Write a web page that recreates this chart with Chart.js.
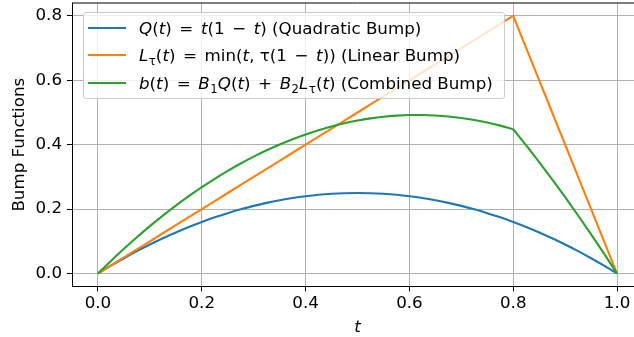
<!DOCTYPE html>
<html><head><meta charset="utf-8">
<script src="https://cdn.jsdelivr.net/npm/chart.js@4/dist/chart.umd.min.js"></script>
<style>
html,body{margin:0;padding:0;background:#fff;overflow:hidden;width:634px;height:337px;}
#wrap{position:relative;width:634px;height:337px;overflow:hidden;}
#c{position:absolute;left:0;top:-17px;}
#legend{position:absolute;left:83px;top:12px;width:422px;height:87px;box-sizing:border-box;border:1px solid #cccccc;border-radius:3px;background:rgba(255,255,255,0.8);font-family:"DejaVu Sans";font-size:16.7px;color:#000;}
.row{position:absolute;left:0;height:20px;line-height:20px;white-space:nowrap;}
.swatch{position:absolute;left:4px;top:9px;width:38px;height:2px;}
.txt{position:absolute;left:55px;top:0;}
.sub{font-size:11.7px;position:relative;top:4px;margin-left:0.5px;}
.op{margin:0 7.6px;}
i{font-style:italic;}
</style></head>
<body><div id="wrap"><canvas id="c" width="660" height="354"></canvas>
<div id="legend"></div></div>
<script>
// ---- data ----
const tValues = [0,0.025,0.05,0.075,0.1,0.125,0.15,0.175,0.2,0.225,0.25,0.275,0.3,0.325,0.35,0.375,0.4,0.425,0.45,0.475,0.5,0.525,0.55,0.575,0.6,0.625,0.65,0.675,0.7,0.725,0.75,0.775,0.8,0.825,0.85,0.875,0.9,0.925,0.95,0.975,1];
const quadratic = [0,0.0244,0.0475,0.0694,0.09,0.1094,0.1275,0.1444,0.16,0.1744,0.1875,0.1994,0.21,0.2194,0.2275,0.2344,0.24,0.2444,0.2475,0.2494,0.25,0.2494,0.2475,0.2444,0.24,0.2344,0.2275,0.2194,0.21,0.1994,0.1875,0.1744,0.16,0.1444,0.1275,0.1094,0.09,0.0694,0.0475,0.0244,0];
const linearBump = [0,0.025,0.05,0.075,0.1,0.125,0.15,0.175,0.2,0.225,0.25,0.275,0.3,0.325,0.35,0.375,0.4,0.425,0.45,0.475,0.5,0.525,0.55,0.575,0.6,0.625,0.65,0.675,0.7,0.725,0.75,0.775,0.8,0.7,0.6,0.5,0.4,0.3,0.2,0.1,0];
const combined = [0,0.0392,0.0768,0.1127,0.147,0.1797,0.2108,0.2402,0.268,0.2942,0.3188,0.3417,0.363,0.3827,0.4008,0.4172,0.432,0.4452,0.4568,0.4667,0.475,0.4817,0.4868,0.4902,0.492,0.4922,0.4908,0.4877,0.483,0.4767,0.4688,0.4592,0.448,0.3977,0.3458,0.2922,0.237,0.1802,0.1218,0.0617,0];
const kinkT = 0.8;
const xTicks = [0,0.2,0.4,0.6,0.8,1.0];
const yTicks = [0,0.2,0.4,0.6,0.8];
const seriesLabels = ['Q(t) = t(1 − t) (Quadratic Bump)','Lτ(t) = min(t, τ(1 − t)) (Linear Bump)','b(t) = B1Q(t) + B2Lτ(t) (Combined Bump)'];
const legendHtml = [
 '<i>Q</i>(<i>t</i>)<span class="op">=</span><i>t</i>(1<span class="op">−</span><i>t</i>) (Quadratic Bump)',
 '<i>L</i><span class="sub">τ</span>(<i>t</i>)<span class="op">=</span>min(<i>t</i>, τ(1<span class="op">−</span><i>t</i>)) (Linear Bump)',
 '<i>b</i>(<i>t</i>)<span class="op">=</span><i>B</i><span class="sub">1</span><i>Q</i>(<i>t</i>)<span class="op">+</span><i>B</i><span class="sub">2</span><i>L</i><span class="sub">τ</span>(<i>t</i>) (Combined Bump)'
];
const colors = ['#1f77b4','#ff7f0e','#2ca02c'];

const FONT = '"DejaVu Sans"';
const pts = (vals, from, to) => tValues.slice(from, to).map((t, i) => ({x: t, y: vals[from + i]}));
const ki = tValues.indexOf(kinkT);
const mk = (label, data, color, order, smooth) => ({
  label, data, borderColor: color, backgroundColor: color, borderWidth: 2.1,
  pointRadius: 0, fill: false, order,
  cubicInterpolationMode: smooth ? 'monotone' : 'default', tension: 0
});
const datasets = [
  mk(seriesLabels[0], pts(quadratic, 0, tValues.length), colors[0], 3, true),
  mk(seriesLabels[1], pts(linearBump, 0, tValues.length), colors[1], 2, false),
  mk(seriesLabels[2], pts(combined, 0, ki + 1), colors[2], 1, true),
  mk(seriesLabels[2], pts(combined, ki, tValues.length), colors[2], 0, true)
];

const spines = {
  id: 'spines',
  afterDatasetsDraw(chart) {
    const {ctx, chartArea: a} = chart;
    ctx.save();
    ctx.strokeStyle = '#000';
    ctx.lineWidth = 1;
    ctx.beginPath();
    ctx.moveTo(a.left, a.top); ctx.lineTo(a.right, a.top);
    ctx.moveTo(a.right, a.top); ctx.lineTo(a.right, a.bottom);
    ctx.stroke();
    ctx.restore();
  }
};

new Chart(document.getElementById('c'), {
  type: 'line',
  data: {datasets},
  options: {
    responsive: false,
    animation: false,
    devicePixelRatio: 1,
    layout: {padding: {top: 20, right: 17, left: 0, bottom: 0}},
    plugins: {legend: {display: false}, tooltip: {enabled: false}},
    scales: {
      x: {
        type: 'linear', min: -0.05, max: 1.05,
        afterBuildTicks: s => { s.ticks = xTicks.map(v => ({value: v})); },
        afterFit: s => { s.height = 50.6; },
        ticks: {callback: v => Number(v).toFixed(1), color: '#000', padding: 2, font: {family: FONT, size: 16.7}, maxRotation: 0},
        grid: {color: '#b0b0b0', lineWidth: 1, tickColor: '#000', tickLength: 5, tickWidth: 1},
        border: {color: '#000', width: 1},
        title: {display: true, text: 't', color: '#000', font: {family: FONT, size: 16.7, style: 'italic', lineHeight: 1}, padding: {top: 0, bottom: 1}}
      },
      y: {
        type: 'linear', min: -0.04, max: 0.84,
        afterBuildTicks: s => { s.ticks = yTicks.map(v => ({value: v})); },
        afterFit: s => { s.width = 72; },
        ticks: {callback: v => Number(v).toFixed(1), color: '#000', padding: 5, font: {family: FONT, size: 16.7}},
        grid: {color: '#b0b0b0', lineWidth: 1, tickColor: '#000', tickLength: 5, tickWidth: 1},
        border: {color: '#000', width: 1},
        title: {display: true, text: 'Bump Functions', color: '#000', font: {family: FONT, size: 16.7}, padding: {top: 10, bottom: 0}}
      }
    }
  },
  plugins: [spines]
});

const lg = document.getElementById('legend');
const centers = [14.7, 42.3, 69.7];
legendHtml.forEach((h, k) => {
  const row = document.createElement('div');
  row.className = 'row';
  row.style.top = (centers[k] - 10) + 'px';
  row.style.width = '100%';
  row.innerHTML = '<div class="swatch" style="background:' + colors[k] + '"></div><div class="txt">' + h + '</div>';
  lg.appendChild(row);
});
</script>
</body></html>
